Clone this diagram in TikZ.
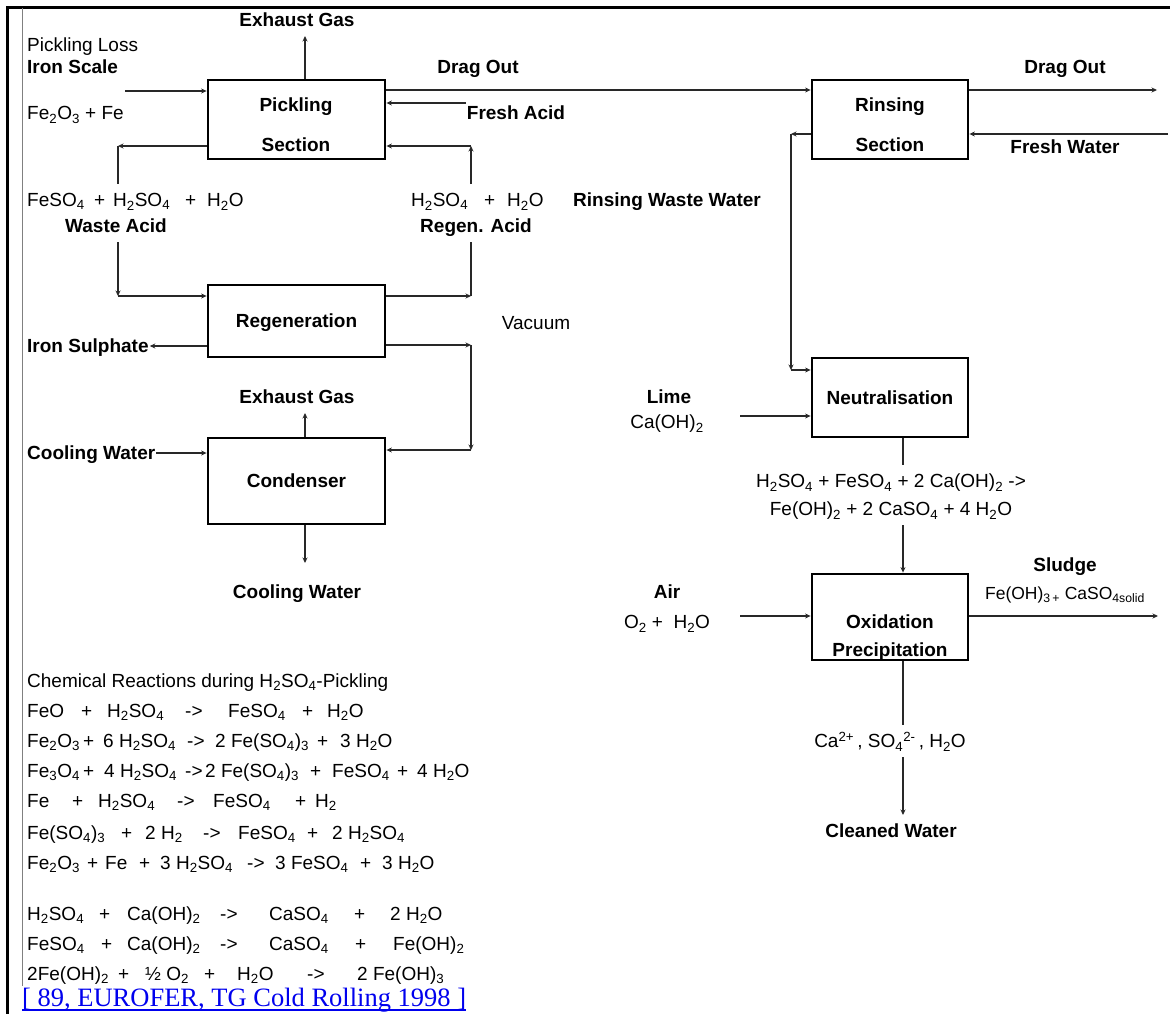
\documentclass[tikz,border=0pt]{standalone}
\usepackage{fontspec}
\setmainfont{Liberation Sans}
\newfontfamily\citefont{Liberation Serif}
\usetikzlibrary{arrows.meta}
\definecolor{linkblue}{RGB}{0,0,238}
\definecolor{pipegray}{RGB}{40,40,40}
\newcommand\lblfont{\fontsize{19}{22}\selectfont}
\newcommand\ssub[1]{\textsubscript{#1}}
\newcommand\ssup[1]{\textsuperscript{#1}}
\newcommand\colat[2]{\makebox[#1pt][l]{#2}}
\tikzset{
  unit/.style={draw, line width=2.8pt, inner sep=0pt, text height=13.6pt, text depth=0pt, font=\bfseries\lblfont},
  flow/.style={draw=pipegray, line width=1.3pt, -{Stealth[length=5.5pt,width=5pt]}},
  pipe/.style={draw=pipegray, line width=1.3pt},
  bname/.style={font=\bfseries\lblfont, inner xsep=1pt, inner ysep=9pt, text height=13.6pt, text depth=0pt},
  cname/.style={bname, font=\lblfont},
  chem/.style={font=\lblfont, inner sep=0pt, anchor=base west}
}

\begin{document}
\begin{tikzpicture}[x=1pt, y=-1pt]
  \useasboundingbox (0,0) rectangle (1170,1014);
  % page frame
  \draw[line width=3pt] (7,1014) -- (7,8) -- (1170,8);
  \draw[gray, line width=1pt] (22,8) -- (22,986);

  % process units
  \node[unit, minimum width=177pt, minimum height=79pt] (pick) at (296.5,119.5) {};
  \node[bname] (pick1) at (296,105) {Pickling};
  \node[bname] (pick2) at (296,145) {Section};
  \node[unit, minimum width=156pt, minimum height=79pt] (rinse) at (890,119.5) {};
  \node[bname] (rinse1) at (890,105) {Rinsing};
  \node[bname] (rinse2) at (890,145) {Section};
  \node[unit, minimum width=177pt, minimum height=72pt] (regen) at (296.5,321) {Regeneration};
  \node[unit, minimum width=177pt, minimum height=86pt] (cond) at (296.5,481) {Condenser};
  \node[unit, minimum width=156pt, minimum height=79pt] (neut) at (890,397.5) {Neutralisation};
  \node[unit, minimum width=156pt, minimum height=86pt] (oxid) at (890,617) {};
  \node[bname] (oxid1) at (890,622) {Oxidation};
  \node[bname] (oxid2) at (890,650) {Precipitation};

  % stream labels
  \node[bname] (gas1) at (297,20) {Exhaust Gas};
  \node[cname, anchor=west] (loss) at (26,45) {Pickling Loss};
  \node[bname, anchor=west] (scale) at (26,67) {Iron Scale};
  \node[cname, anchor=west] (scaleform) at (26,113) {Fe\ssub2O\ssub3 + Fe};
  \node[bname] (drag1) at (478,67) {Drag Out};
  \node[bname] (acid) at (516,113) {Fresh Acid};
  \node[bname] (drag2) at (1065,67) {Drag Out};
  \node[bname] (water) at (1065,147) {Fresh Water};
  \node[cname, anchor=west] (wasteform) at (26,200)
    {\colat{67}{FeSO\ssub4}\colat{19}{+}\colat{72}{H\ssub2SO\ssub4}\colat{22}{+}H\ssub2O};
  \node[bname] (waste) at (116,226) {Waste Acid};
  \node[cname, anchor=west] (regenform) at (410,200) {\colat{73}{H\ssub2SO\ssub4}\colat{23}{+}H\ssub2O};
  \node[bname] (regacid) at (476,226) {Regen. Acid};
  \node[bname] (rinsewaste) at (667,200) {Rinsing Waste Water};
  \node[cname] (vac) at (536,323) {Vacuum};
  \node[bname, anchor=west] (sulph) at (26,346) {Iron Sulphate};
  \node[bname] (gas2) at (297,397) {Exhaust Gas};
  \node[bname, anchor=west] (coolin) at (26,453) {Cooling Water};
  \node[bname] (coolout) at (297,592) {Cooling Water};
  \node[bname] (lime) at (669,397) {Lime};
  \node[cname] (limeform) at (667,422) {Ca(OH)\ssub2};
  \node[cname] (neutform1) at (891,481) {H\ssub2SO\ssub4 + FeSO\ssub4 + 2 Ca(OH)\ssub2 ->};
  \node[cname] (neutform2) at (891,509) {Fe(OH)\ssub2 + 2 CaSO\ssub4 + 4 H\ssub2O};
  \node[bname] (air) at (667,592) {Air};
  \node[cname] (airform) at (667,622) {O\ssub2 + \ H\ssub2O};
  \node[bname] (sludge) at (1065,565) {Sludge};
  \node[cname, font=\fontsize{17.5}{20}\selectfont] (sludgeform) at (1065,593) {Fe(OH)\ssub{3\,+} CaSO\ssub{4solid}};
  \node[cname] (ions) at (890,741) {Ca\ssup{2+}\,, SO\ssub4\ssup{2-}\,, H\ssub2O};
  \node[bname] (cleaned) at (891,831) {Cleaned Water};

  % pickling line
  \coordinate (scalein) at (125,91);
  \draw[flow] (scalein) -- (scalein -| pick.west);
  \coordinate (gasx) at (305,0);
  \draw[flow] (pick.north -| gasx) -- (gas1.south -| gasx);
  \coordinate (dragy) at (0,90);
  \draw[flow] (dragy -| pick.east) -- (dragy -| rinse.west);
  \coordinate (acidin) at (466,103);
  \draw[flow] (acidin) -- (acidin -| pick.east);
  \coordinate (ra) at (471,146);
  \draw[flow] (regenform.north -| ra) -- (ra);
  \draw[flow] (ra) -- (ra -| pick.east);
  \coordinate (wa) at (118,146);
  \draw[flow] (wa -| pick.west) -- (wa);
  \draw[pipe] (wa) -- (wasteform.north -| wa);

  % regeneration and condenser
  \coordinate (wb) at (118,296);
  \draw[flow] (waste.south -| wb) -- (wb);
  \draw[flow] (wb) -- (wb -| regen.west);
  \coordinate (rb) at (471,296);
  \draw[flow] (rb -| regen.east) -- (rb);
  \draw[pipe] (rb) -- (regacid.south -| rb);
  \draw[flow] (sulph.east -| regen.west) -- (sulph.east);
  \coordinate (va) at (471,345);
  \coordinate (vb) at (471,450);
  \draw[flow] (va -| regen.east) -- (va);
  \draw[flow] (va) -- (vb);
  \draw[flow] (vb) -- (vb -| cond.east);
  \draw[flow] (cond.north -| gasx) -- (gas2.south -| gasx);
  \draw[flow] (coolin.east) -- (coolin.east -| cond.west);
  \coordinate (coolend) at (305,563);
  \draw[flow] (cond.south -| gasx) -- (coolend);

  % rinsing and waste water treatment
  \coordinate (drag2end) at (1157,90);
  \draw[flow] (drag2end -| rinse.east) -- (drag2end);
  \coordinate (waterin) at (1168,134);
  \draw[flow] (waterin) -- (waterin -| rinse.east);
  \coordinate (rw1) at (791,134);
  \coordinate (rw2) at (791,370);
  \draw[flow] (rw1 -| rinse.west) -- (rw1);
  \draw[flow] (rw1) -- (rw2);
  \draw[flow] (rw2) -- (rw2 -| neut.west);
  \coordinate (limein) at (740,416);
  \draw[flow] (limein) -- (limein -| neut.west);
  \coordinate (nx) at (903,0);
  \draw[pipe] (neut.south -| nx) -- (neutform1.north -| nx);
  \draw[flow] (neutform2.south -| nx) -- (oxid.north -| nx);
  \coordinate (airin) at (740,616);
  \draw[flow] (airin) -- (airin -| oxid.west);
  \coordinate (sludgeend) at (1158,616);
  \draw[flow] (sludgeend -| oxid.east) -- (sludgeend);
  \draw[pipe] (oxid.south -| nx) -- (ions.north -| nx);
  \draw[flow] (ions.south -| nx) -- (cleaned.north -| nx);

  % reactions
  \node[chem] (rxhead) at (27,687) {Chemical Reactions during H\ssub2SO\ssub4-Pickling};
  \node[chem] (rx1) at (27,717) {\colat{54}{FeO}\colat{26}{+}\colat{78}{H\ssub2SO\ssub4}\colat{43}{->}\colat{74}{FeSO\ssub4}\colat{25}{+}H\ssub2O};
  \node[chem] (rx2) at (27,747) {\colat{56}{Fe\ssub2O\ssub3}\colat{20}{+}\colat{84}{6 H\ssub2SO\ssub4}\colat{28}{->}\colat{102}{2 Fe(SO\ssub4)\ssub3}\colat{23}{+}3 H\ssub2O};
  \node[chem] (rx3) at (27,777) {\colat{56}{Fe\ssub3O\ssub4}\colat{21}{+}\colat{81}{4 H\ssub2SO\ssub4}\colat{20}{->}\colat{105}{2 Fe(SO\ssub4)\ssub3}\colat{22}{+}\colat{65}{FeSO\ssub4}\colat{20}{+}4 H\ssub2O};
  \node[chem] (rx4) at (27,807) {\colat{45}{Fe}\colat{26}{+}\colat{79}{H\ssub2SO\ssub4}\colat{36}{->}\colat{82}{FeSO\ssub4}\colat{20}{+}H\ssub2};
  \node[chem] (rx5) at (27,839) {\colat{94}{Fe(SO\ssub4)\ssub3}\colat{24}{+}\colat{58}{2 H\ssub2}\colat{35}{->}\colat{69}{FeSO\ssub4}\colat{25}{+}2 H\ssub2SO\ssub4};
  \node[chem] (rx6) at (27,869) {\colat{60}{Fe\ssub2O\ssub3}\colat{18}{+}\colat{34}{Fe}\colat{21}{+}\colat{87}{3 H\ssub2SO\ssub4}\colat{28}{->}\colat{85}{3 FeSO\ssub4}\colat{22}{+}3 H\ssub2O};
  \node[chem] (rx7) at (27,920) {\colat{72}{H\ssub2SO\ssub4}\colat{28}{+}\colat{93}{Ca(OH)\ssub2}\colat{49}{->}\colat{85}{CaSO\ssub4}\colat{36}{+}2 H\ssub2O};
  \node[chem] (rx8) at (27,950) {\colat{74}{FeSO\ssub4}\colat{26}{+}\colat{93}{Ca(OH)\ssub2}\colat{49}{->}\colat{86}{CaSO\ssub4}\colat{38}{+}Fe(OH)\ssub2};
  \node[chem] (rx9) at (27,980) {\colat{91}{2Fe(OH)\ssub2}\colat{27}{+}\colat{59}{½ O\ssub2}\colat{33}{+}\colat{70}{H\ssub2O}\colat{50}{->}2 Fe(OH)\ssub3};

  % source
  \node[anchor=base west, inner sep=0pt, text=linkblue, font=\citefont\fontsize{26.5}{30}\selectfont] (cite) at (22,1006)
    {[ 89, EUROFER, TG Cold Rolling 1998 ]};
  \draw[linkblue, line width=1.2pt] ([yshift=-4pt]cite.base west) -- ([yshift=-4pt]cite.base east);
\end{tikzpicture}
\end{document}
